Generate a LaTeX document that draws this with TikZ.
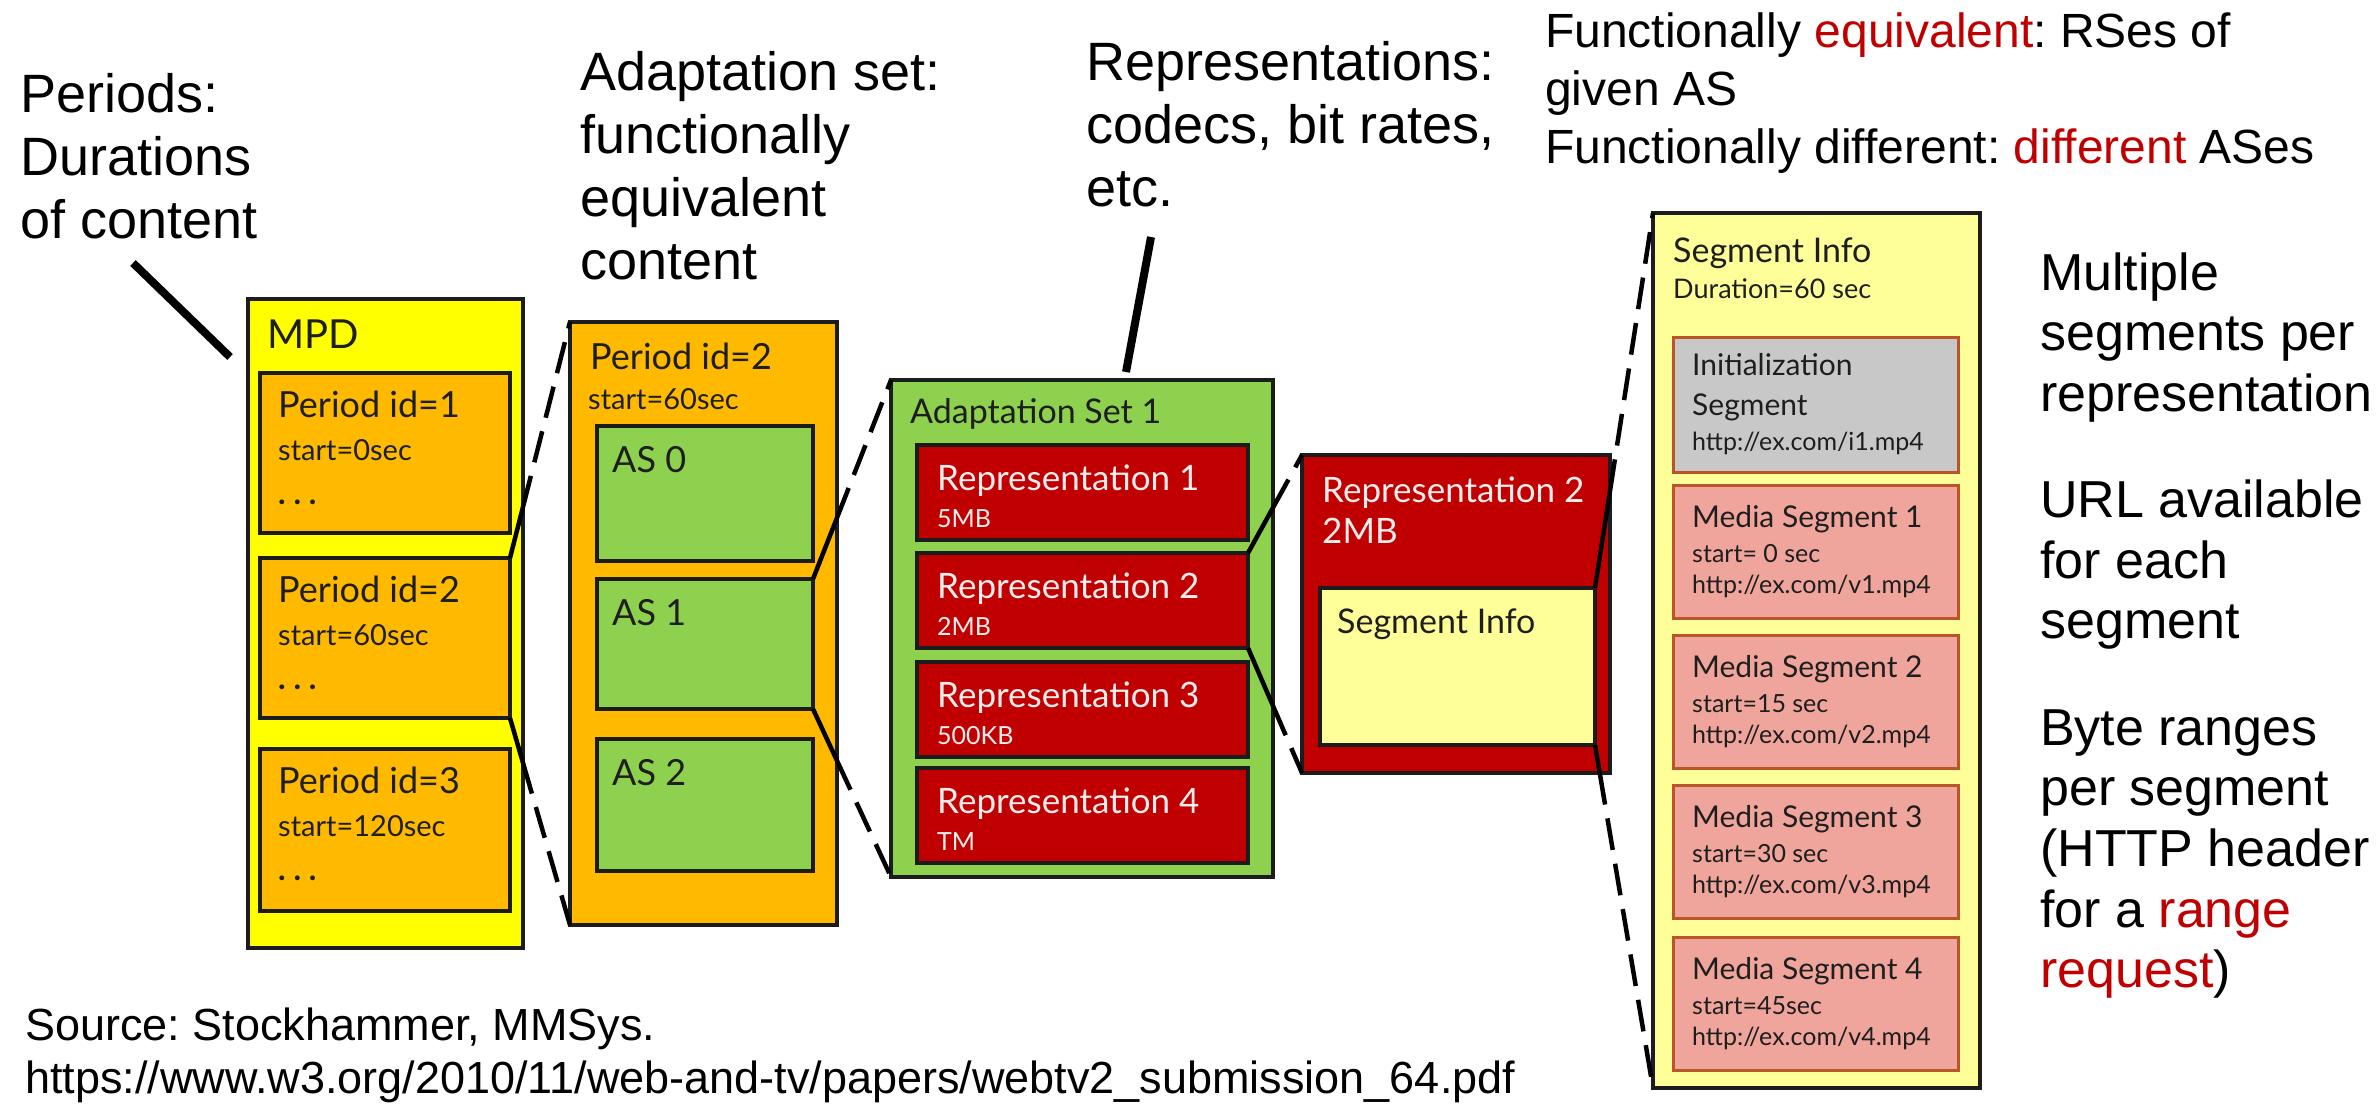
\documentclass[tikz,border=0pt]{standalone}
\usepackage{fontspec}
\setmainfont{Liberation Sans}
\newfontfamily\boxfont{Lato}
\usetikzlibrary{intersections}

\definecolor{mpdfill}{HTML}{FFFF00}
\definecolor{periodfill}{HTML}{FFBA00}
\definecolor{asfill}{HTML}{8ED14E}
\definecolor{repfill}{HTML}{C00000}
\definecolor{infofill}{HTML}{FFFF99}
\definecolor{initfill}{HTML}{C8C8C8}
\definecolor{mediafill}{HTML}{EFA59C}
\definecolor{segline}{HTML}{B8562A}
\definecolor{boxline}{HTML}{1C1C1C}
\definecolor{ink}{HTML}{1E1E1E}
\definecolor{hired}{HTML}{C00000}
\definecolor{reptext}{HTML}{FBEDED}

% box from (x1,y1) to (x2,y2), y measured downwards
\newcommand\boxat[6]{\node[#2, minimum width={#5-#3}, minimum height={#6-#4}] (#1) at (#3,#4) {};}
% text placed on its baseline
\newcommand\textat[5]{\node[boxtext, #2] (#1) at (#3,#4) {#5};}
\newcommand\fsz[1]{\fontsize{#1}{#1}\selectfont}
% zoom link: solid inside the container, dashed outside
\newcommand\zoomlink[4]{%
  \path[name path=zl-#4] (#1) -- (#2);
  \path[name path=zc-#4] (#3.north west) rectangle (#3.south east);
  \path[name intersections={of=zl-#4 and zc-#4, by=zx-#4}];
  \draw[linksolid] (#1) -- (zx-#4);
  \draw[linkdash] (zx-#4) -- (#2);}

\begin{document}
\frenchspacing
\begin{tikzpicture}[x=1pt, y=-1pt,
  box/.style={draw=boxline, line width=4pt, anchor=north west, inner sep=0pt, outer sep=0pt},
  segbox/.style={box, draw=segline, line width=3pt},
  boxtext/.style={anchor=base west, inner sep=0pt, text=ink},
  dots/.style={font=\boxfont\bfseries\fsz{32}},
  ann/.style={anchor=base west, inner sep=0pt, text=black, font=\fsz{54}},
  linksolid/.style={draw=black, line width=4.5pt},
  linkdash/.style={draw=black, line width=4.5pt, dash pattern=on 32pt off 14pt},
  pointer/.style={draw=black, line width=8pt}]

\useasboundingbox (0,0) rectangle (2377,1103);
\fill[white] (0,0) rectangle (2377,1103);

% ---------- MPD ----------
\boxat{mpd}{box, fill=mpdfill}{248}{299}{523}{948}
\textat{mpdT}{font=\boxfont\fsz{40}}{267}{348}{MPD}
\boxat{per1}{box, fill=periodfill}{260}{373}{510}{533}
\boxat{per2}{box, fill=periodfill}{260}{558}{510}{718}
\boxat{per3}{box, fill=periodfill}{260}{749}{510}{911}
\textat{per1a}{font=\boxfont\fsz{36}}{278}{417}{Period id=1}
\textat{per1b}{font=\boxfont\fsz{29}}{278}{460}{start=0sec}
\textat{per1c}{dots}{278}{504}{. . .}
\textat{per2a}{font=\boxfont\fsz{36}}{278}{602}{Period id=2}
\textat{per2b}{font=\boxfont\fsz{29}}{278}{645}{start=60sec}
\textat{per2c}{dots}{278}{689}{. . .}
\textat{per3a}{font=\boxfont\fsz{36}}{278}{793}{Period id=3}
\textat{per3b}{font=\boxfont\fsz{29}}{278}{836}{start=120sec}
\textat{per3c}{dots}{278}{880}{. . .}

% ---------- Period ----------
\boxat{period}{box, fill=periodfill}{570}{322}{837}{925}
\textat{periodA}{font=\boxfont\fsz{36}}{590}{369}{Period id=2}
\textat{periodB}{font=\boxfont\fsz{29}}{588}{409}{start=60sec}
\boxat{as0}{box, fill=asfill}{597}{426}{813}{561}
\boxat{as1}{box, fill=asfill}{597}{579}{813}{709}
\boxat{as2}{box, fill=asfill}{597}{739}{813}{871}
\textat{as0T}{font=\boxfont\fsz{36}}{612}{472}{AS 0}
\textat{as1T}{font=\boxfont\fsz{36}}{612}{625}{AS 1}
\textat{as2T}{font=\boxfont\fsz{36}}{612}{785}{AS 2}

% ---------- Adaptation set ----------
\boxat{aset}{box, fill=asfill}{891}{380}{1273}{877}
\textat{asetT}{font=\boxfont\fsz{34}}{910}{423}{Adaptation Set 1}
\boxat{rep1}{box, fill=repfill}{917}{445}{1248}{540}
\boxat{rep2}{box, fill=repfill}{917}{553}{1248}{648}
\boxat{rep3}{box, fill=repfill}{917}{662}{1248}{757}
\boxat{rep4}{box, fill=repfill}{917}{768}{1248}{863}
\textat{rep1a}{text=reptext, font=\boxfont\fsz{35}}{937}{490}{Representation 1}
\textat{rep1b}{text=reptext, font=\boxfont\fsz{25}}{937}{527}{5MB}
\textat{rep2a}{text=reptext, font=\boxfont\fsz{35}}{937}{598}{Representation 2}
\textat{rep2b}{text=reptext, font=\boxfont\fsz{25}}{937}{635}{2MB}
\textat{rep3a}{text=reptext, font=\boxfont\fsz{35}}{937}{707}{Representation 3}
\textat{rep3b}{text=reptext, font=\boxfont\fsz{25}}{937}{744}{500KB}
\textat{rep4a}{text=reptext, font=\boxfont\fsz{35}}{937}{813}{Representation 4}
\textat{rep4b}{text=reptext, font=\boxfont\fsz{25}}{937}{850}{TM}

% ---------- Representation ----------
\boxat{repbig}{box, fill=repfill}{1302}{455}{1610}{773}
\textat{repbigA}{text=reptext, font=\boxfont\fsz{35}}{1322}{502}{Representation 2}
\textat{repbigB}{text=reptext, font=\boxfont\fsz{35}}{1322}{543}{2MB}
\boxat{infosmall}{box, fill=infofill}{1320}{588}{1595}{745}
\textat{infosmallT}{font=\boxfont\fsz{34}}{1337}{633}{Segment Info}

% ---------- Segment info ----------
\boxat{info}{box, fill=infofill}{1653}{213}{1980}{1088}
\textat{infoA}{font=\boxfont\fsz{34}}{1673}{262}{Segment Info}
\textat{infoB}{font=\boxfont\fsz{27}}{1673}{298}{Duration=60 sec}
\boxat{init}{segbox, fill=initfill}{1673}{337}{1958}{472}
\textat{initA}{font=\boxfont\fsz{30}}{1692}{375}{Initialization}
\textat{initB}{font=\boxfont\fsz{30}}{1692}{415}{Segment}
\textat{initC}{font=\boxfont\fsz{25}}{1692}{450}{http://ex.com/i1.mp4}
\foreach \n/\top/\st in {1/485/{start= 0 sec},2/635/{start=15 sec},3/785/{start=30 sec},4/937/{start=45sec}}{
  \boxat{ms\n}{segbox, fill=mediafill}{1673}{\top}{1958}{\top+133}
  \textat{ms\n a}{font=\boxfont\fsz{30}}{1692}{\top+42}{Media Segment \n}
  \textat{ms\n b}{font=\boxfont\fsz{25}}{1692}{\top+77}{\st}
  \textat{ms\n c}{font=\boxfont\fsz{25}}{1692}{\top+108}{http://ex.com/v\n.mp4}
}

% ---------- zoom links ----------
\zoomlink{per2.north east}{period.north west}{mpd}{a}
\zoomlink{per2.south east}{period.south west}{mpd}{b}
\zoomlink{as1.north east}{aset.north west}{period}{c}
\zoomlink{as1.south east}{aset.south west}{period}{d}
\zoomlink{rep2.north east}{repbig.north west}{aset}{e}
\zoomlink{rep2.south east}{repbig.south west}{aset}{f}
\zoomlink{infosmall.north east}{info.north west}{repbig}{g}
\zoomlink{infosmall.south east}{info.south west}{repbig}{h}

% ---------- annotations ----------
\foreach \t [count=\i from 0] in {{Periods:},{Durations},{of content}}
  \node[ann] (periods-\i) at (20,{112+63*\i}) {\t};
\foreach \t [count=\i from 0] in {{Adaptation set:},{functionally},{equivalent},{content}}
  \node[ann] (adapt-\i) at (580,{90+63*\i}) {\t};
\foreach \t [count=\i from 0] in {{Representations:},{codecs, bit rates,},{etc.}}
  \node[ann] (reps-\i) at (1086,{80+63*\i}) {\t};
\foreach \t [count=\i from 0] in {{Functionally \textcolor{hired}{equivalent}: RSes of},{given AS},{Functionally different: \textcolor{hired}{different} ASes}}
  \node[ann, font=\fsz{48}] (func-\i) at (1545,{47+58*\i}) {\t};
\foreach \t/\y in {{Multiple}/290,{segments per}/350,{representation}/411,
                   {URL available}/517,{for each}/578,{segment}/638,
                   {Byte ranges}/745,{per segment}/805,{(HTTP header}/866,
                   {for a \textcolor{hired}{range}}/927,{\textcolor{hired}{request})}/987}
  \node[ann, font=\fsz{52}] (side-\y) at (2040,\y) {\t};
\node[ann, font=\fsz{45}] (source-1) at (25,1040) {Source: Stockhammer, MMSys.};
\node[ann, font=\fsz{45}] (source-2) at (25,1093) {https://www.w3.org/2010/11/web-and-tv/papers/webtv2\_submission\_64.pdf};

% ---------- pointers ----------
\coordinate (perTail) at (133,263);
\coordinate (perHead) at (230,357);
\coordinate (repTail) at (1151,237);
\coordinate (repHead) at (1126,372);
\draw[pointer] (perTail) -- (perHead);
\draw[pointer] (repTail) -- (repHead);
\end{tikzpicture}
\end{document}
